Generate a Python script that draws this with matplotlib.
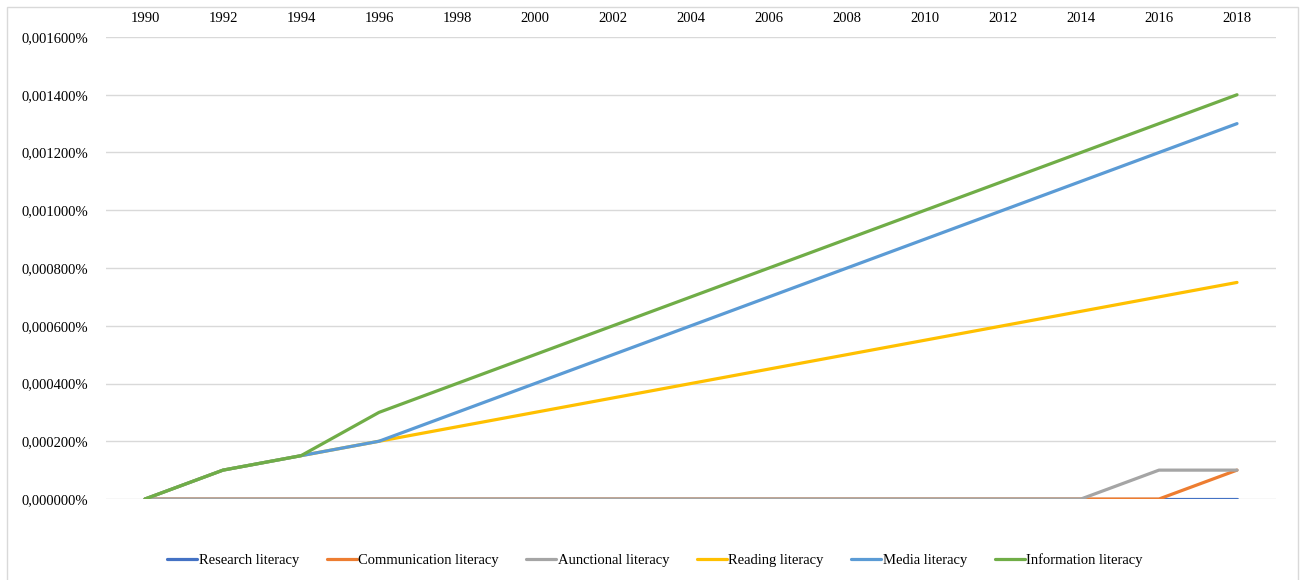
import matplotlib.pyplot as plt
import matplotlib.ticker as mticker
from matplotlib.patches import Rectangle

# Data (values in percent)
years = ['1990', '1992', '1994', '1996', '1998', '2000', '2002', '2004',
         '2006', '2008', '2010', '2012', '2014', '2016', '2018']
research = [0, 0, 0, 0, 0, 0, 0, 0, 0, 0, 0, 0, 0, 0, 0]
communication = [0, 0, 0, 0, 0, 0, 0, 0, 0, 0, 0, 0, 0, 0, 0.0001]
functional = [0, 0, 0, 0, 0, 0, 0, 0, 0, 0, 0, 0, 0, 0.0001, 0.0001]
reading = [0, 0.0001, 0.00015, 0.0002, 0.00025, 0.0003, 0.00035, 0.0004,
           0.00045, 0.0005, 0.00055, 0.0006, 0.00065, 0.0007, 0.00075]
media = [0, 0.0001, 0.00015, 0.0002, 0.0003, 0.0004, 0.0005, 0.0006,
         0.0007, 0.0008, 0.0009, 0.0010, 0.0011, 0.0012, 0.0013]
information = [0, 0.0001, 0.00015, 0.0003, 0.0004, 0.0005, 0.0006, 0.0007,
               0.0008, 0.0009, 0.0010, 0.0011, 0.0012, 0.0013, 0.0014]

series = [
    ('Research literacy', research, '#4472C4'),
    ('Communication literacy', communication, '#ED7D31'),
    ('Aunctional literacy', functional, '#A5A5A5'),
    ('Reading literacy', reading, '#FFC000'),
    ('Media literacy', media, '#5B9BD5'),
    ('Information literacy', information, '#70AD47'),
]

plt.rcParams['font.family'] = ['Liberation Serif', 'DejaVu Serif']

fig = plt.figure(figsize=(13.02, 5.8), dpi=100)
ax = fig.add_axes([106 / 1302, 1 - 499 / 580, 1170 / 1302, 462 / 580])

x = list(range(len(years)))
for name, vals, color in series:
    ax.plot(x, vals, color=color, lw=2.3, label=name, solid_capstyle='round',
            solid_joinstyle='round')

ax.set_xlim(-0.5, len(years) - 0.5)
ax.set_ylim(0, 0.0016)
ax.set_yticks([i * 0.0002 for i in range(9)])
ax.yaxis.set_major_formatter(mticker.FuncFormatter(
    lambda v, p: f'{v:.6f}%'.replace('.', ',')))
ax.set_xticks(x)
ax.set_xticklabels(years)
ax.xaxis.tick_top()
ax.tick_params(axis='x', length=0, pad=9, labelsize=10.5)
ax.tick_params(axis='y', length=0, pad=13, labelsize=10.5)
ax.grid(axis='y', color='#d9d9d9', lw=1)
ax.set_axisbelow(True)
for s in ax.spines.values():
    s.set_visible(False)

fig.legend(loc='center', bbox_to_anchor=(655 / 1302, 1 - 560 / 580), ncol=6,
           frameon=False, fontsize=10.5, handlelength=2.05, handletextpad=0.1,
           columnspacing=1.9)

fig.patches.append(Rectangle((7 / 1302, -0.05), 1291 / 1302, 1.05 - 7 / 580,
                             transform=fig.transFigure, fill=False,
                             edgecolor='#d9d9d9', lw=1))

fig.savefig('out.png', dpi=100)
